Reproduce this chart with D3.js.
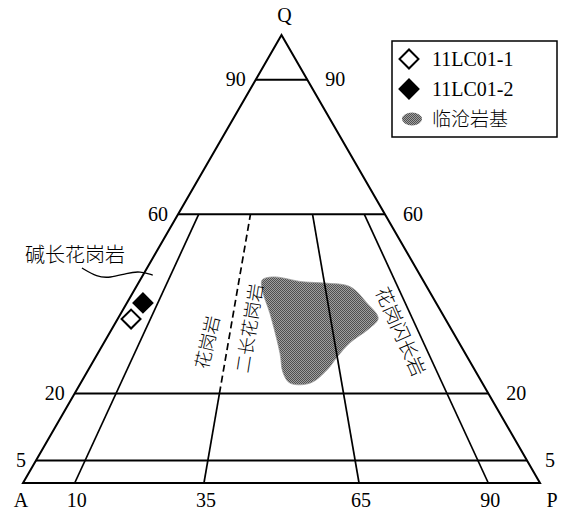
<!DOCTYPE html>
<html>
<head>
<meta charset="utf-8">
<script src="https://cdn.jsdelivr.net/npm/d3@7"></script>
<style>
  html, body { margin: 0; padding: 0; background: #fff; }
  svg { display: block; }
</style>
</head>
<body>
<svg id="chart" width="567" height="511"></svg>
<script>
// ---------------- DATA ----------------
const apexLabels = ["Q", "A", "P"];
const qLevels = [90, 60, 20, 5];                 // horizontal Q lines (%)
const qTickLabels = ["90", "60", "20", "5"];
const ratioLevels = [10, 35, 65, 90];            // 100*P/(A+P)
const ratioTickLabels = ["10", "35", "65", "90"];
const ratioTopQ = 60;                            // ratio lines run from base up to Q=60
const dashedRatio = 35;                          // dashed between Q=20 and Q=60
const dashedFromQ = 20;

const sampleNames = ["11LC01-1", "11LC01-2"];
const sampleQ = [36.6, 40.2];
const sampleA = [60.8, 56.7];
const sampleP = [2.6, 3.1];
const sampleFilled = [false, true];

const fieldName = "临沧岩基";
const fieldQ = [45.3, 46.0, 44.9, 44.6, 43.8, 40.2, 36.8, 34.6, 31.3, 28.1, 25.2, 22.3, 22.3, 24.6, 29.0, 37.9, 42.6];
const fieldP = [23.6, 25.4, 31.7, 36.5, 41.4, 46.4, 50.3, 49.8, 47.6, 46.7, 46.2, 44.4, 40.5, 38.0, 35.2, 28.8, 25.1];

const fieldLabels = ["碱长花岗岩", "花岗岩", "二长花岗岩", "花岗闪长岩"];

// ---------------- SCALES ----------------
const svg = d3.select("#chart");
const xScale = d3.scaleLinear().domain([0, 100]).range([23, 540]);  // P + Q/2
const yScale = d3.scaleLinear().domain([0, 100]).range([483, 35]);  // Q
const proj = (q, p) => [xScale(p + q / 2), yScale(q)];

const serif = "'Liberation Serif', 'Times New Roman', serif";
const cjk = "'Noto Sans CJK SC', 'Noto Sans', sans-serif";

// pattern for field
const defs = svg.append("defs");
const pat = defs.append("pattern").attr("id", "dots")
  .attr("width", 2).attr("height", 2).attr("patternUnits", "userSpaceOnUse");
pat.append("rect").attr("width", 2).attr("height", 2).attr("fill", "#a0a0a0");
pat.append("rect").attr("width", 1).attr("height", 1).attr("fill", "#505050");
pat.append("rect").attr("x", 1).attr("y", 1).attr("width", 1).attr("height", 1).attr("fill", "#505050");

const line = d3.line();

// ---------------- FIELD (临沧岩基) ----------------
const fieldPts = fieldQ.map((q, i) => proj(q, fieldP[i]));
svg.append("path")
  .attr("d", d3.line().curve(d3.curveCatmullRomClosed.alpha(0.5))(fieldPts))
  .attr("fill", "url(#dots)")
  .attr("stroke", "#999").attr("stroke-width", 0.8);

// ---------------- GRID LINES ----------------
qLevels.forEach(q => {
  svg.append("path")
    .attr("d", line([proj(q, 0), proj(q, 100 - q)]))
    .attr("stroke", "#000").attr("stroke-width", 2).attr("fill", "none");
});
ratioLevels.forEach(r => {
  const pAt = q => (100 - q) * r / 100;
  if (r === dashedRatio) {
    svg.append("path")
      .attr("d", line([proj(0, pAt(0)), proj(dashedFromQ, pAt(dashedFromQ))]))
      .attr("stroke", "#000").attr("stroke-width", 1.7).attr("fill", "none");
    svg.append("path")
      .attr("d", line([proj(dashedFromQ, pAt(dashedFromQ)), proj(ratioTopQ, pAt(ratioTopQ))]))
      .attr("stroke", "#000").attr("stroke-width", 1.7).attr("fill", "none")
      .attr("stroke-dasharray", "7,4");
  } else {
    svg.append("path")
      .attr("d", line([proj(0, pAt(0)), proj(ratioTopQ, pAt(ratioTopQ))]))
      .attr("stroke", "#000").attr("stroke-width", 1.7).attr("fill", "none");
  }
});

// triangle frame
svg.append("path")
  .attr("d", line([proj(100, 0), proj(0, 0), proj(0, 100)]) + "Z")
  .attr("stroke", "#000").attr("stroke-width", 2).attr("fill", "none")
  .attr("stroke-linejoin", "miter");

// ---------------- TICK LABELS ----------------
qLevels.forEach((q, i) => {
  const [xl, y] = proj(q, 0);
  const [xr] = proj(q, 100 - q);
  svg.append("text").attr("x", xl - 10).attr("y", y + 6.5)
    .attr("text-anchor", "end").attr("font-family", serif).attr("font-size", 20)
    .text(qTickLabels[i]);
  svg.append("text").attr("x", xr + 18).attr("y", y + 6.5)
    .attr("text-anchor", "start").attr("font-family", serif).attr("font-size", 20)
    .text(qTickLabels[i]);
});
ratioLevels.forEach((r, i) => {
  const [x] = proj(0, r);
  svg.append("text").attr("x", x + 2).attr("y", 507)
    .attr("text-anchor", "middle").attr("font-family", serif).attr("font-size", 20)
    .text(ratioTickLabels[i]);
});
{
  const [qx, qy] = proj(100, 0);
  svg.append("text").attr("x", qx + 3).attr("y", qy - 13)
    .attr("text-anchor", "middle").attr("font-family", serif).attr("font-size", 20).text(apexLabels[0]);
  const [ax] = proj(0, 0);
  svg.append("text").attr("x", ax - 2).attr("y", 507)
    .attr("text-anchor", "middle").attr("font-family", serif).attr("font-size", 20).text(apexLabels[1]);
  const [px] = proj(0, 100);
  svg.append("text").attr("x", px + 12).attr("y", 507)
    .attr("text-anchor", "middle").attr("font-family", serif).attr("font-size", 20).text(apexLabels[2]);
}

// ---------------- FIELD LABELS ----------------
svg.append("text").attr("x", 25).attr("y", 262)
  .attr("font-family", cjk).attr("font-size", 20).attr("font-weight", 300)
  .text(fieldLabels[0]);
const leaderQ = [48.0, 46.0, 45.76, 46.875, 47.3, 46.4];
const leaderP = [-12.6, -8.7, -6.1, -3.3, -1.0, 1.9];
svg.append("path")
  .attr("d", d3.line().curve(d3.curveBasis)(leaderQ.map((q, i) => proj(q, leaderP[i]))))
  .attr("fill", "none").attr("stroke", "#000").attr("stroke-width", 1.3);

function rotLabel(txt, x, y, angle, size) {
  svg.append("text")
    .attr("transform", `translate(${x},${y}) rotate(${angle})`)
    .attr("text-anchor", "middle").attr("dominant-baseline", "central")
    .attr("font-family", cjk).attr("font-size", size).attr("font-weight", 300)
    .text(txt);
}
rotLabel(fieldLabels[1], 206, 342, -77, 18);
rotLabel(fieldLabels[2], 248, 328, -81, 18);
rotLabel(fieldLabels[3], 402, 331, 66, 19);

// ---------------- SAMPLES ----------------
const diamond = d3.symbol().type(d3.symbolSquare).size(180);
sampleQ.forEach((q, i) => {
  const [x, y] = proj(q, sampleP[i]);
  svg.append("path")
    .attr("d", diamond())
    .attr("transform", `translate(${x},${y}) rotate(45)`)
    .attr("fill", sampleFilled[i] ? "#000" : "#fff")
    .attr("stroke", "#000").attr("stroke-width", 2);
});

// ---------------- LEGEND ----------------
const lg = svg.append("g");
lg.append("rect").attr("x", 392).attr("y", 41).attr("width", 165).attr("height", 96)
  .attr("fill", "#fff").attr("stroke", "#000").attr("stroke-width", 1.5);
const legendY = [59, 89];
sampleNames.forEach((n, i) => {
  lg.append("path").attr("d", diamond())
    .attr("transform", `translate(409,${legendY[i]}) rotate(45)`)
    .attr("fill", sampleFilled[i] ? "#000" : "#fff")
    .attr("stroke", "#000").attr("stroke-width", 2);
  lg.append("text").attr("x", 432).attr("y", legendY[i] + 7)
    .attr("font-family", serif).attr("font-size", 20).text(n);
});
lg.append("ellipse").attr("cx", 412).attr("cy", 119).attr("rx", 10).attr("ry", 6.5)
  .attr("fill", "url(#dots)");
lg.append("text").attr("x", 432).attr("y", 126)
  .attr("font-family", cjk).attr("font-size", 19).attr("font-weight", 300).text(fieldName);
</script>
</body>
</html>
